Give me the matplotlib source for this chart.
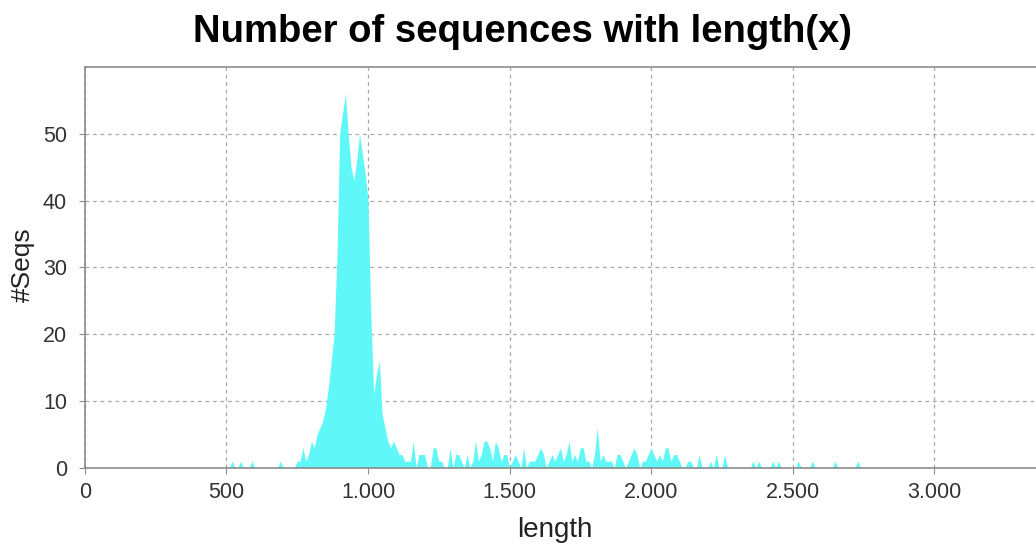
import numpy as np
import matplotlib
matplotlib.use("Agg")
import matplotlib.pyplot as plt
from matplotlib.ticker import FuncFormatter

plt.rcParams['font.family'] = ['Liberation Sans', 'DejaVu Sans']

# sequence length bins (10 units wide), starting at 500
bin_start = 500
bin_width = 10
counts = [
    0, 0, 1, 0, 0, 1, 0, 0, 0, 1,           # 500
    0, 0, 0, 0, 0, 0, 0, 0, 0, 1,           # 600
    0, 0, 0, 0, 0, 1, 1, 3, 1, 2,           # 700
    4, 3, 5, 6, 7, 9, 12, 16, 20, 31,       # 800
    50, 53, 56, 50, 45, 43, 46, 50, 47, 44, # 900
    40, 23, 11, 14, 16, 8, 6, 4, 3, 4,      # 1000
    3, 2, 2, 1, 1, 1, 4, 0, 2, 2,           # 1100
    2, 0, 0, 3, 3, 1, 1, 0, 0, 3,           # 1200
    0, 2, 2, 1, 0, 2, 0, 1, 4, 1,           # 1300
    2, 4, 4, 3, 1, 4, 3, 1, 2, 2,           # 1400
    0, 1, 2, 1, 0, 3, 0, 1, 1, 1,           # 1500
    2, 3, 2, 0, 1, 2, 1, 2, 3, 1,           # 1600
    2, 4, 1, 2, 1, 3, 3, 1, 1, 0,           # 1700
    2, 6, 1, 2, 1, 1, 1, 0, 2, 2,           # 1800
    1, 0, 1, 2, 3, 2, 0, 1, 1, 2,           # 1900
    3, 2, 1, 2, 1, 3, 3, 1, 2, 2,           # 2000
    1, 0, 0, 1, 1, 0, 0, 2, 0, 0,           # 2100
    0, 1, 0, 2, 0, 0, 2, 0, 0, 0,           # 2200
    0, 0, 0, 0, 0, 0, 1, 0, 1, 0,           # 2300
    0, 0, 0, 1, 0, 1, 0, 0, 0, 0,           # 2400
    0, 0, 1, 0, 0, 0, 0, 1, 0, 0,           # 2500
    0, 0, 0, 0, 0, 1, 0, 0, 0, 0,           # 2600
    0, 0, 0, 1, 0, 0,                       # 2700
]
lengths = bin_start + bin_width * np.arange(len(counts))

x_ticks = [0, 500, 1000, 1500, 2000, 2500, 3000]
y_ticks = [0, 10, 20, 30, 40, 50]


def dot_thousands(v, pos):
    return f"{int(v):,}".replace(",", ".")


fig = plt.figure(figsize=(10.36, 5.44), dpi=100)
ax = fig.add_axes([0.082, 0.14, 0.918, 0.737])

ax.fill_between(lengths, counts, color='#5ff7f7', linewidth=0)

ax.set_xlim(0, 3360)
ax.set_ylim(0, 60)
ax.set_xticks(x_ticks)
ax.set_yticks(y_ticks)
ax.xaxis.set_major_formatter(FuncFormatter(dot_thousands))

ax.grid(True, linestyle=(0, (3, 3)), color='#a8a8a8', linewidth=0.9)
ax.set_axisbelow(True)
for side in ['left', 'bottom', 'top']:
    ax.spines[side].set_color('#8c8c8c')
    ax.spines[side].set_linewidth(1.2)
ax.spines['right'].set_visible(False)
ax.tick_params(axis='both', colors='#8c8c8c', length=4, labelsize=15.5,
               labelcolor='#333333')
ax.tick_params(axis='x', pad=6)
ax.tick_params(axis='y', pad=9)

fig.text(0.536, 0.026, 'length', fontsize=20, color='#222222',
         ha='center', va='center')
fig.text(0.022, 0.513, '#Seqs', fontsize=19, color='#222222',
         ha='center', va='center', rotation=90)
fig.text(0.504, 0.941, 'Number of sequences with length(x)', fontsize=27.5,
         fontweight='bold', ha='center', va='center')

fig.savefig('out.png', dpi=100)
